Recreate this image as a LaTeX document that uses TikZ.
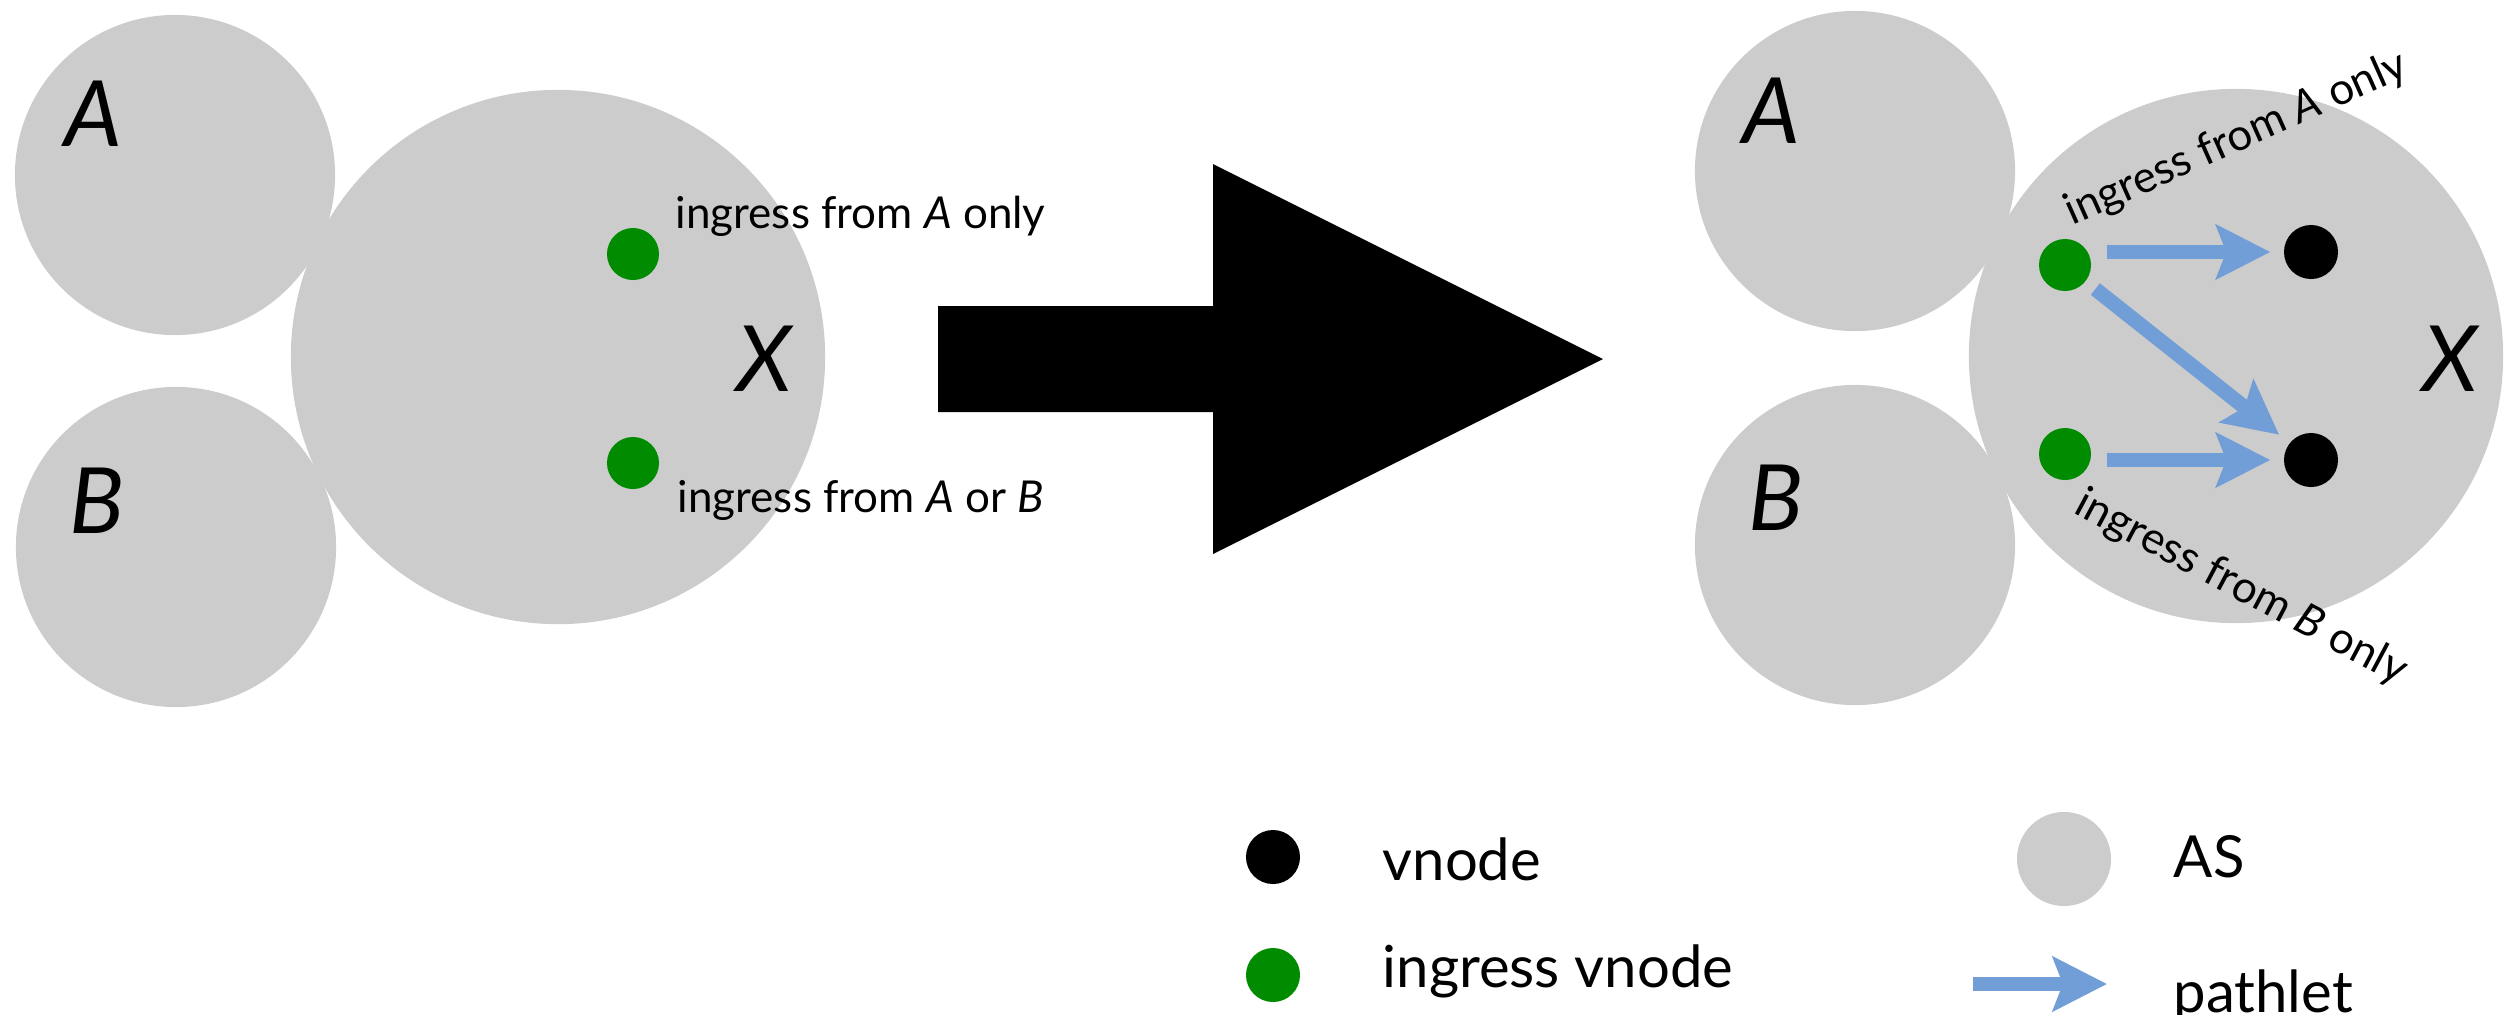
\documentclass[tikz,border=0pt]{standalone}
\usepackage{fontspec}
\setmainfont{Lato}
\usetikzlibrary{arrows.meta}
\definecolor{asgray}{HTML}{CCCCCC}
\definecolor{ingreen}{HTML}{008B00}
\definecolor{pathblue}{RGB}{113,158,215}
\tikzset{
  asnode/.style={circle, fill=asgray, inner sep=0pt, minimum size=#1},
  ingress/.style={circle, fill=ingreen, inner sep=0pt, minimum size=0.52cm},
  vnodedot/.style={circle, fill=black, inner sep=0pt, minimum size=0.54cm},
  aslabel/.style={font=\fontsize{26}{30}\selectfont\itshape, inner sep=0pt, anchor=base},
  smalltext/.style={font=\fontsize{12.5}{15}\selectfont, inner sep=0pt, anchor=base west},
  legendtext/.style={font=\fontsize{16.5}{20}\selectfont, inner sep=0pt, anchor=base west},
  pathlet/.style={draw=pathblue, line width=0.147cm,
    -{Stealth[length=0.54cm, width=0.54cm, inset=0.1cm]}},
}
\begin{document}
\begin{tikzpicture}[x=0.01cm, y=-0.01cm]
\useasboundingbox (0,0) rectangle (2514,1014);

% ---- left: before ----
\node[asnode=3.2cm] (la) at (175,175) {};
\node[asnode=3.2cm] (lb) at (176,547) {};
\node[asnode=5.34cm] (lx) at (558,357) {};
\node[aslabel] (lal) at (93,146) {A};
\node[aslabel] (lbl) at (97,533) {B};
\node[aslabel] (lxl) at (764,391) {X};
\node[ingress] (lg1) at (633,254) {};
\node[ingress] (lg2) at (633,463) {};
\node[smalltext] (lt1) at (675,228) {ingress from \textit{A} only};
\node[smalltext] (lt2) at (677,512) {ingress from \textit{A} or \textit{B}};

% ---- big transformation arrow ----
\fill[black] (938,306) -- (1213,306) -- (1213,164) -- (1603,359)
  -- (1213,554) -- (1213,412) -- (938,412) -- cycle;

% ---- right: after ----
\node[asnode=3.2cm] (ra) at (1855,171) {};
\node[asnode=3.2cm] (rb) at (1855,545) {};
\node[asnode=5.34cm] (rx) at (2236,356) {};
\node[aslabel] (ral) at (1771,143) {A};
\node[aslabel] (rbl) at (1776,530) {B};
\node[aslabel] (rxl) at (2450,391) {X};
\node[ingress] (rg1) at (2065,265) {};
\node[ingress] (rg2) at (2065,454) {};
\node[vnodedot] (rv1) at (2311,252) {};
\node[vnodedot] (rv2) at (2311,460) {};
\node[smalltext, rotate=24] (rt1) at (2072,226) {ingress from \textit{A} only};
\node[smalltext, rotate=-28] (rt2) at (2072,512) {ingress from \textit{B} only};

\draw[pathlet, shorten <=0.15cm, shorten >=0.13cm] (rg1.east |- rv1) -- (rv1.west);
\draw[pathlet, shorten <=0.12cm, shorten >=0.13cm] (rg1) -- (rv2);
\draw[pathlet, shorten <=0.15cm, shorten >=0.13cm] (rg2.east |- rv2) -- (rv2.west);

% ---- legend ----
\node[vnodedot] (kv) at (1273,857) {};
\node[legendtext] (kvt) at (1382,880) {vnode};
\node[ingress, minimum size=0.54cm] (kg) at (1273,975) {};
\node[legendtext] (kgt) at (1382,987) {ingress vnode};
\node[asnode=0.94cm] (ka) at (2064,859) {};
\node[legendtext] (kat) at (2173,877) {AS};
\coordinate (kp0) at (1973,984);
\coordinate (kp1) at (2107,984);
\draw[pathlet] (kp0) -- (kp1);
\node[legendtext] (kpt) at (2173,1012) {pathlet};
\end{tikzpicture}
\end{document}
